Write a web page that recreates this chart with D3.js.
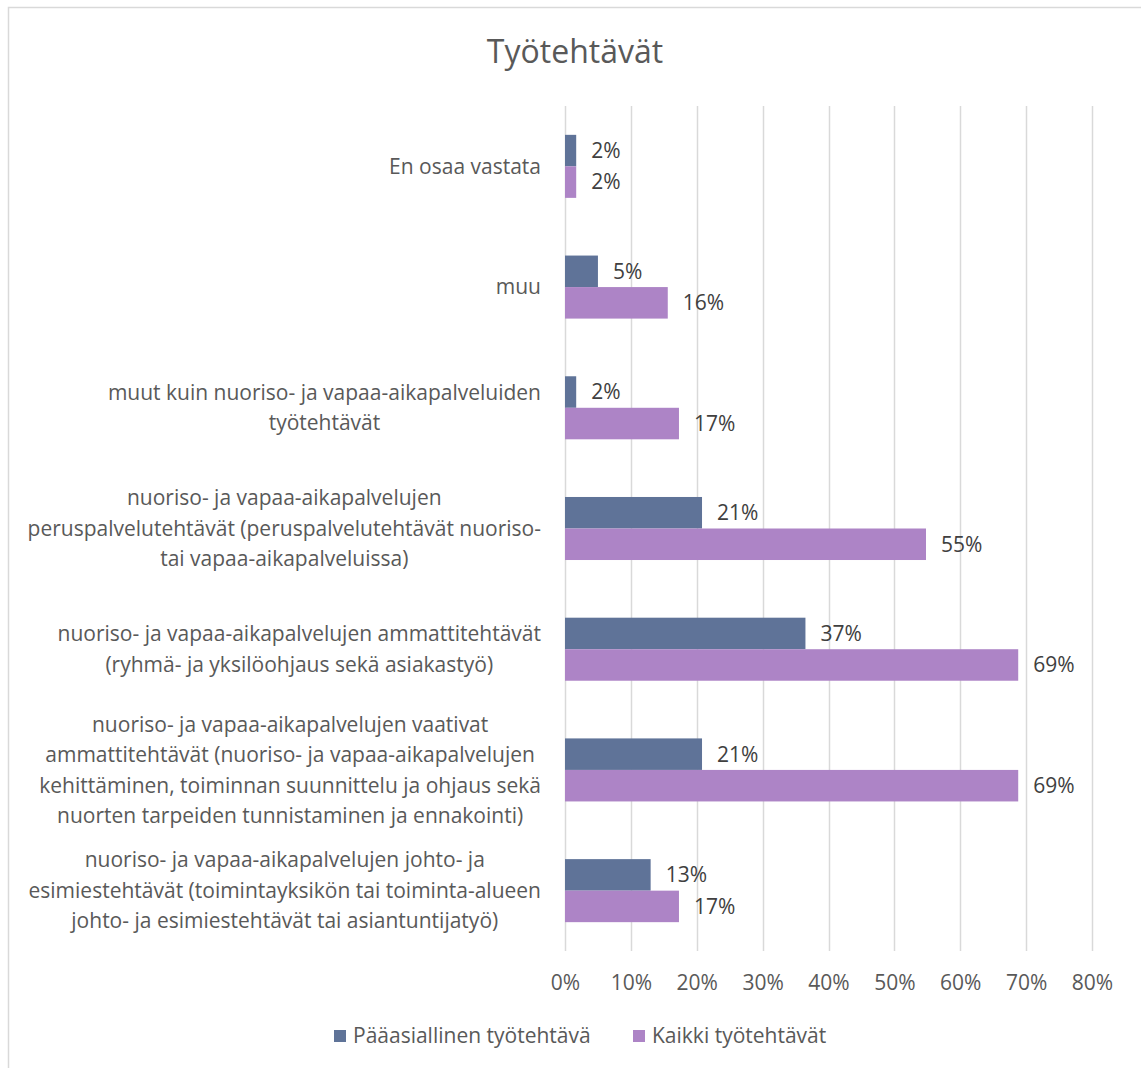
<!DOCTYPE html>
<html>
<head>
<meta charset="utf-8">
<script src="https://cdn.jsdelivr.net/npm/d3@7"></script>
<style>
  html, body { margin: 0; padding: 0; background: #fff; }
  svg { display: block; }
  text { font-family: "Open Sans", "Noto Sans", sans-serif; }
</style>
</head>
<body>
<svg id="chart" width="1141" height="1068"></svg>
<script>
// ---- data ----
const title = "Työtehtävät";
const categories = [
  ["En osaa vastata"],
  ["muu"],
  ["muut kuin nuoriso- ja vapaa-aikapalveluiden", "työtehtävät"],
  ["nuoriso- ja vapaa-aikapalvelujen", "peruspalvelutehtävät (peruspalvelutehtävät nuoriso-", "tai vapaa-aikapalveluissa)"],
  ["nuoriso- ja vapaa-aikapalvelujen ammattitehtävät", "(ryhmä- ja yksilöohjaus sekä asiakastyö)"],
  ["nuoriso- ja vapaa-aikapalvelujen vaativat", "ammattitehtävät (nuoriso- ja vapaa-aikapalvelujen", "kehittäminen, toiminnan suunnittelu ja ohjaus sekä", "nuorten tarpeiden tunnistaminen ja ennakointi)"],
  ["nuoriso- ja vapaa-aikapalvelujen johto- ja", "esimiestehtävät (toimintayksikön tai toiminta-alueen", "johto- ja esimiestehtävät tai asiantuntijatyö)"]
];
const seriesNames = ["Pääasiallinen työtehtävä", "Kaikki työtehtävät"];
const paaasiallinen = [0.017, 0.050, 0.017, 0.208, 0.365, 0.208, 0.130];
const kaikki        = [0.017, 0.156, 0.173, 0.548, 0.688, 0.688, 0.173];
const paaLabels   = ["2%", "5%", "2%", "21%", "37%", "21%", "13%"];
const kaikkiLabels = ["2%", "16%", "17%", "55%", "69%", "69%", "17%"];
const xTicks = [0, 0.1, 0.2, 0.3, 0.4, 0.5, 0.6, 0.7, 0.8];
const colors = ["#5F7398", "#AD84C6"];

// ---- layout ----
const svg = d3.select("#chart");
const plot = { left: 565, right: 1092, top: 106, bottom: 951 };
const FS = 21;

// chart border
svg.append("rect").attr("x", 8.5).attr("y", 7.5).attr("width", 1140).attr("height", 1070)
  .attr("fill", "none").attr("stroke", "#D9D9D9").attr("stroke-width", 1.5);

// title
svg.append("text").attr("x", 575).attr("y", 63).attr("text-anchor", "middle")
  .attr("font-size", 32).attr("fill", "#595959").text(title);

const x = d3.scaleLinear().domain([0, 0.8]).range([plot.left, plot.right]);
const idx = categories.map((d, i) => i);
const y = d3.scaleBand().domain(idx).range([plot.top, plot.bottom]).padding(0);
const barH = y.bandwidth() / (2 + 1.83);
const ySeries = d3.scaleBand().domain([0, 1]).range([-barH, barH]).padding(0);

// gridlines
svg.append("g").selectAll("line").data(xTicks).join("line")
  .attr("x1", d => Math.round(x(d)) + 0.5).attr("x2", d => Math.round(x(d)) + 0.5)
  .attr("y1", plot.top).attr("y2", plot.bottom)
  .attr("stroke", "#D9D9D9").attr("stroke-width", 1.5);

// x axis tick labels
const xAxis = d3.axisBottom(x).tickValues(xTicks).tickFormat(d3.format(".0%")).tickSize(0).tickPadding(0);
const gx = svg.append("g").attr("transform", `translate(0, 975)`).call(xAxis);
gx.select(".domain").remove();
gx.selectAll("text").attr("font-size", FS).attr("fill", "#595959")
  .attr("font-family", "'Open Sans', sans-serif").attr("dy", "0.71em").attr("y", 0);

// bars
const series = [paaasiallinen, kaikki];
const labels = [paaLabels, kaikkiLabels];
series.forEach((vals, s) => {
  const g = svg.append("g");
  g.selectAll("rect").data(vals).join("rect")
    .attr("x", x(0))
    .attr("y", (d, i) => y(i) + y.bandwidth() / 2 + ySeries(s))
    .attr("width", d => x(d) - x(0))
    .attr("height", ySeries.bandwidth())
    .attr("fill", colors[s]);
  g.selectAll("text").data(vals).join("text")
    .attr("x", d => x(d) + 15)
    .attr("y", (d, i) => y(i) + y.bandwidth() / 2 + ySeries(s) + ySeries.bandwidth() / 2)
    .attr("dy", "0.35em")
    .attr("font-size", FS).attr("fill", "#404040")
    .text((d, i) => labels[s][i]);
});

// category labels (centered lines, block right-aligned)
const labelRight = 541;
const lineH = 30.5;
categories.forEach((lines, i) => {
  const g = svg.append("g");
  const texts = lines.map((ln, j) => g.append("text")
    .attr("font-size", FS).attr("fill", "#595959")
    .attr("text-anchor", "middle")
    .attr("dy", "0.35em")
    .attr("y", y(i) + y.bandwidth() / 2 + (j - (lines.length - 1) / 2) * lineH)
    .text(ln));
  const maxW = d3.max(texts, t => t.node().getComputedTextLength());
  texts.forEach(t => t.attr("x", labelRight - maxW / 2));
});

// legend
const legendItems = [
  { name: seriesNames[0], color: colors[0], x: 334 },
  { name: seriesNames[1], color: colors[1], x: 633 }
];
const lg = svg.append("g");
legendItems.forEach(it => {
  lg.append("rect").attr("x", it.x).attr("y", 1030).attr("width", 12).attr("height", 12).attr("fill", it.color);
  lg.append("text").attr("x", it.x + 19).attr("y", 1036).attr("dy", "0.35em")
    .attr("font-size", FS).attr("fill", "#595959").text(it.name);
});
</script>
</body>
</html>
